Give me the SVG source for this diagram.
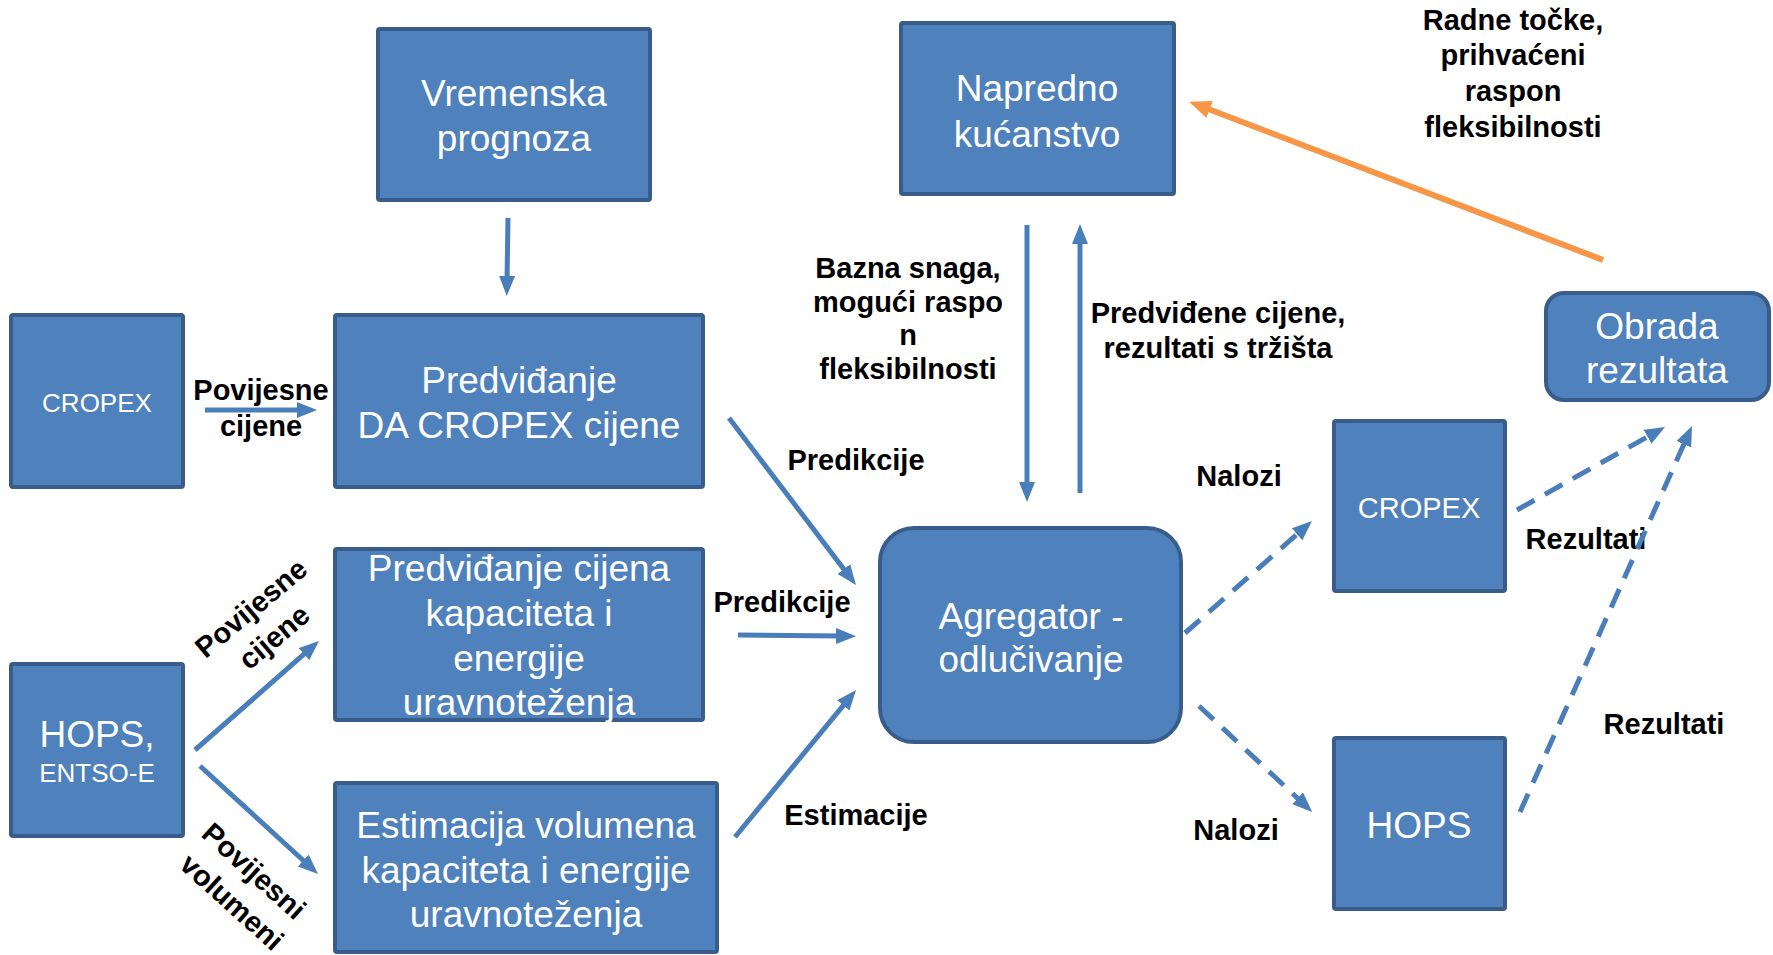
<svg xmlns="http://www.w3.org/2000/svg" width="1773" height="955" viewBox="0 0 1773 955">
<defs>
<style>
.box{fill:#4F81BD;stroke:#385D8A;stroke-width:4}
.t{font-family:"Liberation Sans",Arial,sans-serif;fill:#FFFFFF;font-size:37px;text-anchor:middle}
.l{font-family:"Liberation Sans",Arial,sans-serif;fill:#000000;font-size:29px;font-weight:bold;text-anchor:middle}
.c{fill:none;stroke:#4A7EBB;stroke-width:5}
.d{fill:none;stroke:#4A7EBB;stroke-width:5;stroke-dasharray:20 12}
.o{fill:none;stroke:#F79646;stroke-width:6}
</style>
<marker id="ab" markerUnits="userSpaceOnUse" markerWidth="20" markerHeight="16" refX="6" refY="8" orient="auto">
<path d="M0,0 L20,8 L0,16 Z" fill="#4A7EBB"/>
</marker>
<marker id="ao" markerUnits="userSpaceOnUse" markerWidth="22" markerHeight="18" refX="7" refY="9" orient="auto">
<path d="M0,0 L22,9 L0,18 Z" fill="#F79646"/>
</marker>
</defs>
<rect width="1773" height="955" fill="#FFFFFF"/>

<g id="vremenska">
<rect class="box" x="378" y="29" width="272" height="171" rx="2"/>
<text class="t" x="514" y="106">Vremenska</text>
<text class="t" x="514" y="151">prognoza</text>
</g>
<g id="napredno">
<rect class="box" x="901" y="23" width="273" height="171" rx="2"/>
<text class="t" x="1037" y="101">Napredno</text>
<text class="t" x="1037" y="147">kućanstvo</text>
</g>
<g id="cropex-left">
<rect class="box" x="11" y="315" width="172" height="172" rx="2"/>
<text class="t" x="97" y="412" style="font-size:26px">CROPEX</text>
</g>
<g id="predvidjanje-da">
<rect class="box" x="335" y="315" width="368" height="172" rx="2"/>
<text class="t" x="519" y="393">Predviđanje</text>
<text class="t" x="519" y="438">DA CROPEX cijene</text>
</g>
<g id="predvidjanje-cijena">
<rect class="box" x="335" y="549" width="368" height="171" rx="2"/>
<text class="t" x="519" y="581">Predviđanje cijena</text>
<text class="t" x="519" y="626">kapaciteta i</text>
<text class="t" x="519" y="671">energije</text>
<text class="t" x="519" y="715">uravnoteženja</text>
</g>
<g id="hops-entsoe">
<rect class="box" x="11" y="664" width="172" height="172" rx="2"/>
<text class="t" x="97" y="747">HOPS,</text>
<text class="t" x="97" y="782" style="font-size:26px">ENTSO-E</text>
</g>
<g id="estimacija">
<rect class="box" x="335" y="783" width="382" height="169" rx="2"/>
<text class="t" x="526" y="838">Estimacija volumena</text>
<text class="t" x="526" y="883">kapaciteta i energije</text>
<text class="t" x="526" y="927">uravnoteženja</text>
</g>
<g id="agregator">
<rect class="box" x="880" y="528" width="301" height="214" rx="34"/>
<text class="t" x="1031" y="629">Agregator -</text>
<text class="t" x="1031" y="672">odlučivanje</text>
</g>
<g id="cropex-right">
<rect class="box" x="1334" y="421" width="171" height="170" rx="2"/>
<text class="t" x="1419" y="518" style="font-size:29px">CROPEX</text>
</g>
<g id="hops-right">
<rect class="box" x="1334" y="738" width="171" height="171" rx="2"/>
<text class="t" x="1419" y="838">HOPS</text>
</g>
<g id="obrada">
<rect class="box" x="1546" y="293" width="223" height="107" rx="18"/>
<text class="t" x="1657" y="339">Obrada</text>
<text class="t" x="1657" y="383">rezultata</text>
</g>

<g id="labels">
<text class="l" x="261" y="400">Povijesne</text>
<text class="l" x="261" y="436">cijene</text>
<text class="l" transform="translate(251,608) rotate(-40)" x="0" y="10">Povijesne</text>
<text class="l" transform="translate(274,637) rotate(-40)" x="0" y="10">cijene</text>
<text class="l" transform="translate(254,871) rotate(42)" x="0" y="10">Povijesni</text>
<text class="l" transform="translate(232,902) rotate(42)" x="0" y="10">volumeni</text>
<text class="l" x="856" y="470">Predikcije</text>
<text class="l" x="782" y="612">Predikcije</text>
<text class="l" x="856" y="825">Estimacije</text>
<text class="l" x="908" y="278">Bazna snaga,</text>
<text class="l" x="908" y="312">mogući raspo</text>
<text class="l" x="908" y="345">n</text>
<text class="l" x="908" y="379">fleksibilnosti</text>
<text class="l" x="1218" y="323">Predviđene cijene,</text>
<text class="l" x="1218" y="358">rezultati s tržišta</text>
<text class="l" x="1513" y="30">Radne točke,</text>
<text class="l" x="1513" y="65">prihvaćeni</text>
<text class="l" x="1513" y="101">raspon</text>
<text class="l" x="1513" y="137">fleksibilnosti</text>
<text class="l" x="1239" y="486">Nalozi</text>
<text class="l" x="1236" y="840">Nalozi</text>
<text class="l" x="1586" y="549">Rezultati</text>
<text class="l" x="1664" y="734">Rezultati</text>
</g>

<g id="connectors">
<line class="c" x1="508" y1="218" x2="507" y2="282" marker-end="url(#ab)"/>
<line class="c" x1="205" y1="410" x2="303" y2="410" marker-end="url(#ab)"/>
<line class="c" x1="729" y1="418" x2="847.5" y2="573.9" marker-end="url(#ab)"/>
<line class="c" x1="738" y1="635" x2="842" y2="636" marker-end="url(#ab)"/>
<line class="c" x1="735" y1="837" x2="847.1" y2="700.8" marker-end="url(#ab)"/>
<line class="c" x1="195" y1="750" x2="308.5" y2="650.2" marker-end="url(#ab)"/>
<line class="c" x1="200" y1="766" x2="307.7" y2="864.5" marker-end="url(#ab)"/>
<line class="c" x1="1027" y1="225" x2="1027" y2="488" marker-end="url(#ab)"/>
<line class="c" x1="1080" y1="493" x2="1080" y2="238" marker-end="url(#ab)"/>
<line class="d" x1="1185" y1="633" x2="1301.5" y2="530.3" marker-end="url(#ab)"/>
<line class="d" x1="1199" y1="706" x2="1302" y2="802.4" marker-end="url(#ab)"/>
<line class="d" x1="1517" y1="510" x2="1652.8" y2="433.8" marker-end="url(#ab)"/>
<line class="d" x1="1520" y1="812" x2="1686.3" y2="438.8" marker-end="url(#ab)"/>
<line class="o" x1="1603" y1="260" x2="1203.1" y2="107" marker-end="url(#ao)"/>
</g>
</svg>
